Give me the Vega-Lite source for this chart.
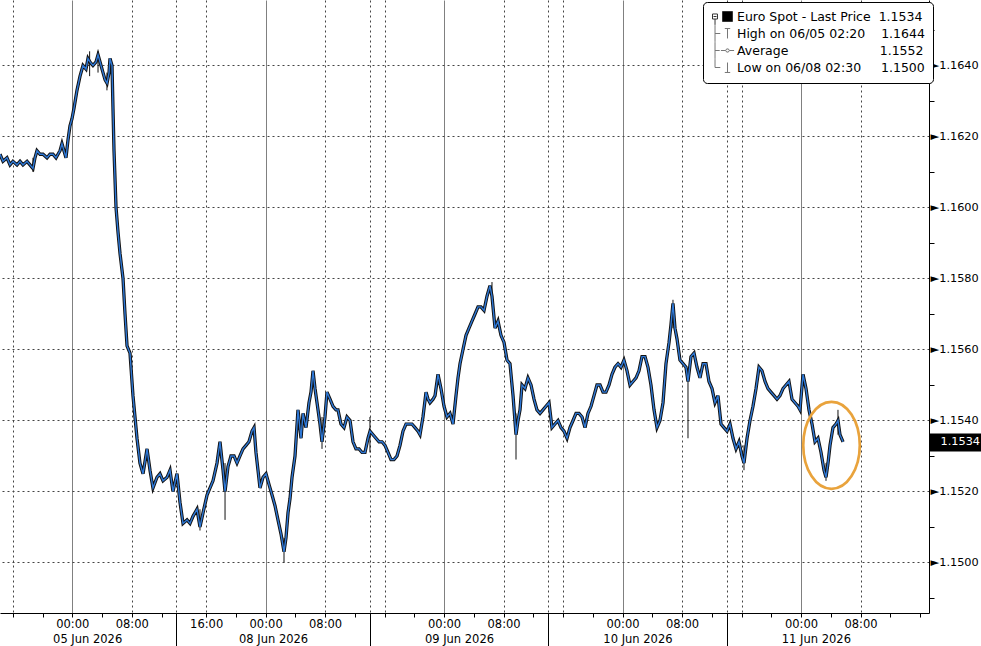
{
  "$schema": "https://vega.github.io/schema/vega-lite/v6.json",
  "width": 929,
  "height": 613,
  "autosize": {"type": "none"},
  "padding": {"left": 0, "top": 0, "right": 52, "bottom": 33},
  "background": "white",
  "config": {"view": {"stroke": null}, "font": "DejaVu Sans"},
  "datasets": {
    "px": [
      {"t":-9.72,"p":1.1615},{"t":-9.32,"p":1.1613},{"t":-8.78,"p":1.1614},{"t":-8.38,"p":1.1612},{"t":-7.98,"p":1.1613},{"t":-7.44,"p":1.1612},{"t":-7.03,"p":1.1613},{"t":-6.63,"p":1.1612},{"t":-6.09,"p":1.1613},{"t":-5.69,"p":1.1612},{"t":-5.29,"p":1.1611},{"t":-5.02,"p":1.1614},{"t":-4.75,"p":1.1616},{"t":-4.34,"p":1.1615},{"t":-3.94,"p":1.1615},{"t":-3.40,"p":1.1614},{"t":-3.00,"p":1.1615},{"t":-2.60,"p":1.1615},{"t":-2.19,"p":1.1614},{"t":-1.92,"p":1.1615},{"t":-1.65,"p":1.1616},{"t":-1.39,"p":1.1618},{"t":-1.12,"p":1.1616},{"t":-0.85,"p":1.1614},{"t":-0.58,"p":1.1619},{"t":-0.31,"p":1.1623},{"t":-0.04,"p":1.1625},{"t":0.23,"p":1.1628},{"t":0.63,"p":1.1633},{"t":1.04,"p":1.1637},{"t":1.44,"p":1.1640},{"t":1.84,"p":1.1639},{"t":2.11,"p":1.1642},{"t":2.38,"p":1.1641},{"t":2.78,"p":1.1640},{"t":3.19,"p":1.1641},{"t":3.46,"p":1.1643},{"t":3.73,"p":1.1641},{"t":4.13,"p":1.1638},{"t":4.40,"p":1.1636},{"t":4.67,"p":1.1635},{"t":4.94,"p":1.1638},{"t":5.07,"p":1.1642},{"t":5.34,"p":1.1640},{"t":5.47,"p":1.1628},{"t":5.61,"p":1.1616},{"t":5.88,"p":1.1600},{"t":6.15,"p":1.1593},{"t":6.42,"p":1.1587},{"t":6.82,"p":1.1580},{"t":7.09,"p":1.1570},{"t":7.36,"p":1.1561},{"t":7.76,"p":1.1559},{"t":8.16,"p":1.1547},{"t":8.70,"p":1.1535},{"t":9.10,"p":1.1528},{"t":9.51,"p":1.1525},{"t":10.05,"p":1.1532},{"t":10.45,"p":1.1526},{"t":10.85,"p":1.1521},{"t":11.39,"p":1.1524},{"t":11.79,"p":1.1525},{"t":12.20,"p":1.1523},{"t":12.74,"p":1.1524},{"t":13.14,"p":1.1526},{"t":13.54,"p":1.1520},{"t":14.08,"p":1.1525},{"t":14.48,"p":1.1517},{"t":14.89,"p":1.1511},{"t":15.43,"p":1.1512},{"t":15.83,"p":1.1511},{"t":16.23,"p":1.1513},{"t":16.77,"p":1.1515},{"t":17.17,"p":1.1510},{"t":17.58,"p":1.1514},{"t":18.12,"p":1.1519},{"t":18.52,"p":1.1521},{"t":18.92,"p":1.1523},{"t":19.46,"p":1.1528},{"t":19.86,"p":1.1534},{"t":20.27,"p":1.1526},{"t":20.54,"p":1.1520},{"t":20.94,"p":1.1527},{"t":21.34,"p":1.1530},{"t":21.75,"p":1.1530},{"t":22.15,"p":1.1528},{"t":22.55,"p":1.1530},{"t":22.96,"p":1.1532},{"t":23.36,"p":1.1533},{"t":23.76,"p":1.1534},{"t":24.17,"p":1.1537},{"t":24.44,"p":1.1538},{"t":24.70,"p":1.1531},{"t":24.97,"p":1.1526},{"t":25.24,"p":1.1521},{"t":25.65,"p":1.1524},{"t":26.05,"p":1.1525},{"t":26.45,"p":1.1522},{"t":26.86,"p":1.1519},{"t":27.26,"p":1.1516},{"t":27.66,"p":1.1512},{"t":28.07,"p":1.1508},{"t":28.47,"p":1.1503},{"t":28.74,"p":1.1507},{"t":29.01,"p":1.1514},{"t":29.28,"p":1.1518},{"t":29.55,"p":1.1524},{"t":29.95,"p":1.1530},{"t":30.35,"p":1.1543},{"t":30.76,"p":1.1535},{"t":31.03,"p":1.1542},{"t":31.43,"p":1.1538},{"t":31.83,"p":1.1545},{"t":32.10,"p":1.1548},{"t":32.37,"p":1.1554},{"t":32.64,"p":1.1549},{"t":32.91,"p":1.1545},{"t":33.31,"p":1.1539},{"t":33.58,"p":1.1534},{"t":33.98,"p":1.1541},{"t":34.25,"p":1.1548},{"t":34.66,"p":1.1546},{"t":35.06,"p":1.1544},{"t":35.46,"p":1.1543},{"t":35.73,"p":1.1543},{"t":36.13,"p":1.1539},{"t":36.54,"p":1.1538},{"t":36.94,"p":1.1541},{"t":37.35,"p":1.1540},{"t":37.75,"p":1.1534},{"t":38.15,"p":1.1532},{"t":38.56,"p":1.1532},{"t":38.96,"p":1.1531},{"t":39.36,"p":1.1531},{"t":39.77,"p":1.1535},{"t":40.04,"p":1.1537},{"t":40.44,"p":1.1536},{"t":40.84,"p":1.1535},{"t":41.25,"p":1.1534},{"t":41.65,"p":1.1534},{"t":42.05,"p":1.1533},{"t":42.46,"p":1.1531},{"t":42.86,"p":1.1529},{"t":43.26,"p":1.1529},{"t":43.67,"p":1.1530},{"t":44.07,"p":1.1533},{"t":44.47,"p":1.1537},{"t":44.88,"p":1.1539},{"t":45.28,"p":1.1539},{"t":45.68,"p":1.1539},{"t":46.09,"p":1.1538},{"t":46.49,"p":1.1537},{"t":46.76,"p":1.1536},{"t":47.16,"p":1.1541},{"t":47.57,"p":1.1548},{"t":47.84,"p":1.1546},{"t":48.10,"p":1.1545},{"t":48.51,"p":1.1546},{"t":48.78,"p":1.1547},{"t":49.18,"p":1.1553},{"t":49.58,"p":1.1549},{"t":49.99,"p":1.1544},{"t":50.39,"p":1.1541},{"t":50.79,"p":1.1542},{"t":51.20,"p":1.1539},{"t":51.60,"p":1.1547},{"t":51.87,"p":1.1552},{"t":52.14,"p":1.1556},{"t":52.54,"p":1.1560},{"t":52.95,"p":1.1564},{"t":53.35,"p":1.1566},{"t":53.75,"p":1.1568},{"t":54.16,"p":1.1570},{"t":54.56,"p":1.1572},{"t":54.96,"p":1.1572},{"t":55.37,"p":1.1571},{"t":55.77,"p":1.1575},{"t":56.17,"p":1.1578},{"t":56.44,"p":1.1575},{"t":56.85,"p":1.1566},{"t":57.25,"p":1.1568},{"t":57.65,"p":1.1564},{"t":58.06,"p":1.1562},{"t":58.46,"p":1.1557},{"t":58.86,"p":1.1556},{"t":59.27,"p":1.1547},{"t":59.67,"p":1.1536},{"t":59.94,"p":1.1540},{"t":60.21,"p":1.1543},{"t":60.48,"p":1.1550},{"t":60.88,"p":1.1549},{"t":61.28,"p":1.1552},{"t":61.69,"p":1.1550},{"t":62.09,"p":1.1546},{"t":62.49,"p":1.1543},{"t":62.90,"p":1.1542},{"t":63.30,"p":1.1543},{"t":63.70,"p":1.1544},{"t":64.11,"p":1.1545},{"t":64.51,"p":1.1538},{"t":64.91,"p":1.1539},{"t":65.32,"p":1.1540},{"t":65.72,"p":1.1538},{"t":66.12,"p":1.1537},{"t":66.53,"p":1.1535},{"t":66.93,"p":1.1538},{"t":67.34,"p":1.1540},{"t":67.74,"p":1.1542},{"t":68.14,"p":1.1542},{"t":68.55,"p":1.1541},{"t":68.95,"p":1.1538},{"t":69.35,"p":1.1542},{"t":69.76,"p":1.1544},{"t":70.16,"p":1.1547},{"t":70.56,"p":1.1550},{"t":70.97,"p":1.1550},{"t":71.37,"p":1.1548},{"t":71.77,"p":1.1548},{"t":72.18,"p":1.1550},{"t":72.58,"p":1.1553},{"t":72.98,"p":1.1555},{"t":73.39,"p":1.1556},{"t":73.79,"p":1.1555},{"t":74.19,"p":1.1557},{"t":74.60,"p":1.1554},{"t":75.00,"p":1.1550},{"t":75.40,"p":1.1551},{"t":75.81,"p":1.1552},{"t":76.21,"p":1.1554},{"t":76.61,"p":1.1558},{"t":77.02,"p":1.1558},{"t":77.42,"p":1.1555},{"t":77.82,"p":1.1550},{"t":78.23,"p":1.1543},{"t":78.63,"p":1.1538},{"t":79.03,"p":1.1540},{"t":79.44,"p":1.1545},{"t":79.84,"p":1.1556},{"t":80.25,"p":1.1562},{"t":80.51,"p":1.1567},{"t":80.78,"p":1.1573},{"t":81.05,"p":1.1566},{"t":81.32,"p":1.1563},{"t":81.72,"p":1.1557},{"t":82.13,"p":1.1556},{"t":82.53,"p":1.1555},{"t":82.80,"p":1.1551},{"t":83.20,"p":1.1558},{"t":83.61,"p":1.1559},{"t":84.01,"p":1.1555},{"t":84.41,"p":1.1552},{"t":84.82,"p":1.1556},{"t":85.22,"p":1.1556},{"t":85.62,"p":1.1551},{"t":86.03,"p":1.1549},{"t":86.43,"p":1.1545},{"t":86.83,"p":1.1547},{"t":87.24,"p":1.1539},{"t":87.64,"p":1.1538},{"t":88.05,"p":1.1537},{"t":88.45,"p":1.1539},{"t":88.85,"p":1.1535},{"t":89.26,"p":1.1532},{"t":89.66,"p":1.1534},{"t":90.06,"p":1.1530},{"t":90.33,"p":1.1528},{"t":90.74,"p":1.1535},{"t":91.14,"p":1.1540},{"t":91.54,"p":1.1544},{"t":91.95,"p":1.1549},{"t":92.35,"p":1.1555},{"t":92.75,"p":1.1554},{"t":93.16,"p":1.1551},{"t":93.56,"p":1.1549},{"t":93.96,"p":1.1548},{"t":94.37,"p":1.1547},{"t":94.77,"p":1.1546},{"t":95.17,"p":1.1547},{"t":95.58,"p":1.1549},{"t":95.98,"p":1.1550},{"t":96.38,"p":1.1551},{"t":96.79,"p":1.1546},{"t":97.19,"p":1.1545},{"t":97.59,"p":1.1544},{"t":97.86,"p":1.1543},{"t":98.27,"p":1.1553},{"t":98.67,"p":1.1549},{"t":99.07,"p":1.1543},{"t":99.48,"p":1.1539},{"t":99.88,"p":1.1534},{"t":100.28,"p":1.1535},{"t":100.69,"p":1.1531},{"t":101.09,"p":1.1526},{"t":101.36,"p":1.1524},{"t":101.63,"p":1.1528},{"t":101.90,"p":1.1533},{"t":102.30,"p":1.1538},{"t":102.70,"p":1.1539},{"t":102.97,"p":1.1540},{"t":103.24,"p":1.1536},{"t":103.65,"p":1.1534}
    ],
    "wicks": [
      {"t":-5.29,"lo":1.1610,"hi":1.1614},{"t":2.33,"lo":1.1637,"hi":1.1644},{"t":3.46,"lo":1.1638,"hi":1.1644},{"t":4.66,"lo":1.1633,"hi":1.1638},{"t":17.17,"lo":1.1509,"hi":1.1515},{"t":20.54,"lo":1.1512,"hi":1.1528},{"t":28.47,"lo":1.1500,"hi":1.1507},{"t":33.58,"lo":1.1532,"hi":1.1541},{"t":40.03,"lo":1.1531,"hi":1.1541},{"t":56.44,"lo":1.1574,"hi":1.1579},{"t":59.67,"lo":1.1529,"hi":1.1542},{"t":80.78,"lo":1.1566,"hi":1.1574},{"t":82.80,"lo":1.1535,"hi":1.1553},{"t":90.33,"lo":1.1526,"hi":1.1533},{"t":101.36,"lo":1.1523,"hi":1.1528},{"t":102.97,"lo":1.1536,"hi":1.1543}
    ],
    "highlight": [{"t":102.1,"p":1.1533}],
    "legendrows": [
      {"item":"Euro Spot - Last Price"},{"item":"High on 06/05 02:20"},{"item":"Average"},{"item":"Low on 06/08 02:30"}
    ]
  },
  "layer": [
    {
      "data": {"name": "px"},
      "mark": {"type": "line", "color": "#111111", "strokeWidth": 3.3, "interpolate": "linear"},
      "encoding": {
        "x": {
          "field": "t", "type": "quantitative", "title": null,
          "scale": {"domain": [-9.723, 115.21], "nice": false, "zero": false},
          "axis": {
            "values": [-8,-4,0,2,4,8,12,14,18,22,26,27,30,34,38,40,42,46,50,52,54,58,62,64,66,70,74,76,78,82,86,88,90,94,98,100,102,106,110,114],
            "tickCount": 500,
            "labelExpr": "indexof([0,26,50,74,98], datum.value) >= 0 ? '00:00' : indexof([8,34,58,82,106], datum.value) >= 0 ? '08:00' : datum.value == 18 ? '16:00' : datum.value == 2 ? '05 Jun 2026' : datum.value == 27 ? '08 Jun 2026' : datum.value == 52 ? '09 Jun 2026' : datum.value == 76 ? '10 Jun 2026' : datum.value == 100 ? '11 Jun 2026' : ''",
            "labelFont": "DejaVu Sans", "labelFontSize": 11.5, "labelColor": "#000000",
            "labelOverlap": false, "labelFlush": false, "labelBound": false,
            "domainColor": "#000000", "domainWidth": 1,
            "tickColor": "#000000",
            "tickSize": {"condition": {"test": "indexof([14,40,64,88], datum.value) >= 0", "value": 33}, "value": 4},
            "tickOpacity": {"condition": {"test": "indexof([2,27,52,76,100], datum.value) >= 0", "value": 0}, "value": 1},
            "labelPadding": {"condition": {"test": "indexof([2,27,52,76,100], datum.value) >= 0", "value": 16}, "value": 1},
            "grid": true,
            "gridDash": {"condition": {"test": "indexof([0,26,50,74,98], datum.value) >= 0", "value": []}, "value": [2, 3]},
            "gridColor": {"condition": {"test": "indexof([0,26,50,74,98], datum.value) >= 0", "value": "#808080"}, "value": "#444444"},
            "gridOpacity": {"condition": {"test": "indexof([-8,0,8,14,18,26,34,40,42,50,58,64,66,74,82,88,90,98,106], datum.value) >= 0", "value": 1}, "value": 0}
          }
        },
        "y": {
          "field": "p", "type": "quantitative", "title": null,
          "scale": {"domain": [1.148577, 1.165845], "nice": false, "zero": false},
          "axis": {
            "orient": "right",
            "values": [1.149,1.15,1.151,1.152,1.153,1.1534,1.154,1.155,1.156,1.157,1.158,1.159,1.16,1.161,1.162,1.163,1.164,1.165],
            "tickCount": 500,
            "labelExpr": "datum.value == 1.1534 ? '1.1534' : (round(datum.value * 10000) % 20 == 0 ? '\u25BA' + format(datum.value, '.4f') : '')",
            "labelFont": "DejaVu Sans", "labelFontSize": 11.3,
            "labelColor": {"condition": {"test": "datum.value == 1.1534", "value": "#ffffff"}, "value": "#000000"},
            "labelOverlap": false, "labelFlush": false, "labelBound": false,
            "tickColor": "#000000",
            "tickSize": {"condition": {"test": "datum.value == 1.1534", "value": 52}, "value": 5},
            "tickWidth": {"condition": {"test": "datum.value == 1.1534", "value": 18}, "value": 1},
            "tickOpacity": {"condition": {"test": "round(datum.value * 10000) % 20 == 0", "value": 0}, "value": 1},
            "labelPadding": {"condition": {"test": "datum.value == 1.1534", "value": -41}, "value": -4},
            "domainColor": "#000000", "domainWidth": 1,
            "grid": true,
            "gridDash": [2, 3],
            "gridColor": "#444444",
            "gridOpacity": {"condition": {"test": "round(datum.value * 10000) % 20 == 0", "value": 1}, "value": 0}
          }
        }
      }
    },
    {
      "data": {"name": "wicks"},
      "mark": {"type": "rule", "color": "#111111", "strokeWidth": 1},
      "encoding": {
        "x": {"field": "t", "type": "quantitative", "title": null, "scale": {"domain": [-9.723, 115.21], "nice": false, "zero": false}},
        "y": {"field": "lo", "type": "quantitative", "title": null, "scale": {"domain": [1.148577, 1.165845], "nice": false, "zero": false}},
        "y2": {"field": "hi"}
      }
    },
    {
      "data": {"name": "px"},
      "mark": {"type": "line", "color": "#2e78d6", "strokeWidth": 1.4, "interpolate": "linear"},
      "encoding": {
        "x": {"field": "t", "type": "quantitative", "title": null, "scale": {"domain": [-9.723, 115.21], "nice": false, "zero": false}},
        "y": {"field": "p", "type": "quantitative", "title": null, "scale": {"domain": [1.148577, 1.165845], "nice": false, "zero": false}}
      }
    },
    {
      "data": {"name": "highlight"},
      "mark": {"type": "point", "shape": "M-0.65,0A0.65,1 0 1,0 0.65,0A0.65,1 0 1,0 -0.65,0Z", "size": 7569, "filled": false, "stroke": "#e9a33c", "strokeWidth": 2.7, "opacity": 1},
      "encoding": {
        "x": {"field": "t", "type": "quantitative", "title": null, "scale": {"domain": [-9.723, 115.21], "nice": false, "zero": false}},
        "y": {"field": "p", "type": "quantitative", "title": null, "scale": {"domain": [1.148577, 1.165845], "nice": false, "zero": false}}
      }
    },
    {
      "data": {"name": "legendrows"},
      "mark": {"type": "point", "opacity": 0, "strokeWidth": 1},
      "encoding": {
        "shape": {
          "field": "item", "type": "nominal", "title": null,
          "scale": {
            "domain": ["Euro Spot - Last Price","High on 06/05 02:20","Average","Low on 06/08 02:30"],
            "range": [
              "M-0.83,-0.83H0.83V0.83H-0.83ZM-2.5,-0.42H-1.67M-1.67,-0.42V0.42M-1.67,0.42H-2.5M-2.5,0.42V-0.42M-2.33,0H-1.83M-2.08,0.42V1.4",
              "M-0.45,-0.83H0.45M0,-0.83V0.83M-2.08,-1.4V1.4M-2.08,0H-1.2",
              "M-1.1,0H-0.3M0.3,0H1.1M0.3,0L0.15,0.26M0.15,0.26L-0.15,0.26M-0.15,0.26L-0.3,0M-0.3,0L-0.15,-0.26M-0.15,-0.26L0.15,-0.26M0.15,-0.26L0.3,0M-2.08,-1.4V1.4M-2.08,0H-1.3",
              "M0,-0.83V0.83M-0.45,0.83H0.45M-2.08,-1.4V0M-2.08,0H-1.2"
            ]
          },
          "legend": {
            "orient": "none", "legendX": 703, "legendY": 2, "title": null,
            "rowPadding": -4.1,
            "padding": 8, "fillColor": "#ffffff", "strokeColor": "#000000", "cornerRadius": 4,
            "symbolSize": 144, "symbolOffset": 10, "labelOffset": 3,
            "labelFont": "DejaVu Sans", "labelFontSize": 12.5, "labelColor": "#000000", "labelLimit": 400,
            "labelExpr": "datum.label == 'Euro Spot - Last Price' ? datum.label + '\u00a0\u00a01.1534' : datum.label == 'High on 06/05 02:20' ? datum.label + '\u00a0\u00a0\u00a0\u00a01.1644' : datum.label == 'Average' ? datum.label + '\u00a0\u00a0\u00a0\u00a0\u00a0\u00a0\u00a0\u00a0\u00a0\u00a0\u00a0\u00a0\u00a0\u00a0\u00a0\u00a0\u00a0\u00a0\u00a0\u00a0\u00a0\u00a0\u00a01.1552' : datum.label + '\u00a0\u00a0\u00a0\u00a0\u00a01.1500'",
            "symbolStrokeWidth": 1, "symbolOpacity": 1,
            "zindex": 1
          }
        },
        "fill": {
          "field": "item", "type": "nominal", "title": null,
          "scale": {"domain": ["Euro Spot - Last Price","High on 06/05 02:20","Average","Low on 06/08 02:30"], "range": ["#000000", "transparent", "transparent", "transparent"]}
        },
        "stroke": {
          "field": "item", "type": "nominal", "title": null,
          "scale": {"domain": ["Euro Spot - Last Price","High on 06/05 02:20","Average","Low on 06/08 02:30"], "range": ["#333333", "#777777", "#777777", "#777777"]}
        }
      }
    }
  ]
}
